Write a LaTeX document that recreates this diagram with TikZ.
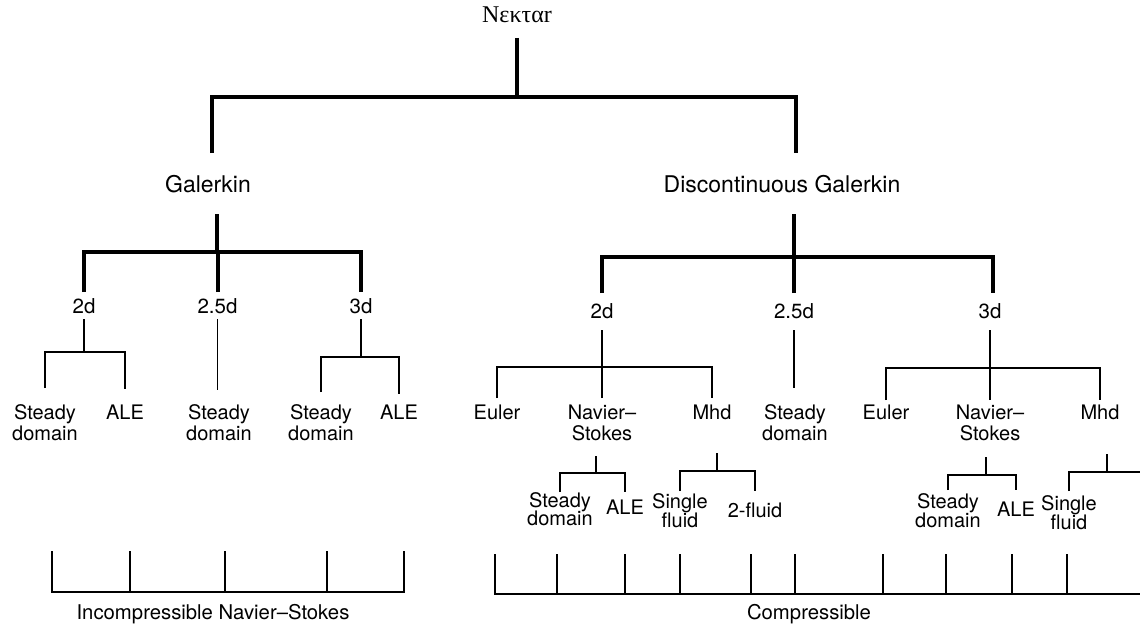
\documentclass[tikz,border=0pt]{standalone}
\usepackage{fontspec}
\setmainfont{TeX Gyre Heros}
\newfontfamily\greekserif{Liberation Serif}

% two centred lines, first baseline is the box baseline
\newcommand\stack[3]{\vtop{\baselineskip=#1\lineskiplimit=-\maxdimen
  \halign{\hfil##\hfil\cr#2\cr#3\cr}}}

\tikzset{
  trunk/.style={line width=4pt},
  twig/.style={line width=1.4pt},
  txt/.style={anchor=base, inner sep=0pt, outer sep=0pt, text height=#1, text depth=0pt},
  txt/.default=15pt,
  root/.style={txt, font=\greekserif\fontsize{24}{26}\selectfont},
  method/.style={txt=39pt, text depth=22pt, font=\fontsize{23}{25}\selectfont},
  dimL/.style={txt=21pt, text depth=6pt, font=\fontsize{20.5}{22}\selectfont},
  dimR/.style={txt=25pt, text depth=12pt, font=\fontsize{20.5}{22}\selectfont},
  leaf/.style={txt=#1, font=\fontsize{20}{21}\selectfont},
  low/.style={txt=#1, font=\fontsize{20}{19}\selectfont},
  note/.style={txt, font=\fontsize{20.3}{22}\selectfont}
}

\begin{document}
\begin{tikzpicture}[x=1pt, y=-1pt]
\useasboundingbox (0,0) rectangle (1140,626);
\clip (0,0) rectangle (1140,626);

% root and methods
\node[root, text depth=15pt] (nek) at (517,23) {Nεκταr};
\node[method] (gal) at (208,192) {Galerkin};
\node[method] (dg) at (782,192) {Discontinuous Galerkin};
\draw[trunk] (nek.south) -- ++(0,59) coordinate (nekj);
\draw[trunk] ([xshift=4pt]gal.north) |- (nekj) -| ([xshift=14pt]dg.north);

% Galerkin
\node[dimL] (g2d) at (84,313) {2d};
\node[dimL] (g25) at (217.5,313) {2.5d};
\node[dimL] (g3d) at (361,313) {3d};
\draw[trunk] ([xshift=9pt]gal.south) -- ++(0,38) coordinate (galj);
\draw[trunk] (g2d.north) |- (galj) -| (g3d.north);
\draw[trunk] (g25.north) -- (g25.north |- galj);

\node[leaf=31pt] (g2dsd) at (45,419) {\stack{21pt}{Steady}{domain}};
\node[leaf=30pt] (g2dale) at (125,419) {ALE};
\draw[twig] (g2d.south) -- ++(0,33) coordinate (g2dj);
\draw[twig] (g2dsd.north) |- (g2dj) -| (g2dale.north);

\node[leaf=29pt] (g25sd) at (219,419) {\stack{21pt}{Steady}{domain}};
\draw[twig] (g25.south) -- (g25.south |- g25sd.north);

\node[leaf=27pt] (g3dsd) at (321,419) {\stack{21pt}{Steady}{domain}};
\node[leaf=25pt] (g3dale) at (399,419) {ALE};
\draw[twig] (g3d.south) -- ++(0,38) coordinate (g3dj);
\draw[twig] (g3dsd.north) |- (g3dj) -| (g3dale.north);

% Discontinuous Galerkin
\node[dimR] (d2d) at (602,318) {2d};
\node[dimR] (d25) at (794,318) {2.5d};
\node[dimR] (d3d) at (990,318) {3d};
\draw[trunk] ([xshift=12pt]dg.south) -- ++(0,43) coordinate (dgj);
\draw[trunk] (d2d.north) |- (dgj) -| ([xshift=3pt]d3d.north);
\draw[trunk] (d25.north) -- (d25.north |- dgj);

\node[leaf=21pt] (d2deu) at (497,419) {Euler};
\node[leaf=21pt, text depth=37pt] (d2dns) at (602,419) {\stack{21pt}{Navier–}{Stokes}};
\node[leaf=21pt, text depth=34pt] (d2dmhd) at (712,419) {Mhd};
\draw[twig] (d2d.south) -- ++(0,37) coordinate (d2dj);
\draw[twig] (d2deu.north) |- (d2dj) -| (d2dmhd.north);
\draw[twig] (d2dns.north) -- (d2dns.north |- d2dj);

\node[leaf=31pt] (d25sd) at (795,419) {\stack{21pt}{Steady}{domain}};
\draw[twig] (d25.south) -- (d25.south |- d25sd.north);

\node[leaf=19pt] (d3deu) at (886,419) {Euler};
\node[leaf=19pt, text depth=38pt] (d3dns) at (990,419) {\stack{21pt}{Navier–}{Stokes}};
\node[leaf=19pt, text depth=35pt] (d3dmhd) at (1100,419) {Mhd};
\draw[twig] (d3d.south) -- ++(0,38) coordinate (d3dj);
\draw[twig] (d3deu.north) |- (d3dj) -| (d3dmhd.north);
\draw[twig] (d3dns.north) -- (d3dns.north |- d3dj);

% third level
\node[low=15pt] (ns2sd) at (560,507) {\stack{18.5pt}{Steady}{domain}};
\node[low=22pt] (ns2ale) at (625,514) {ALE};
\draw[twig] ([xshift=-6pt]d2dns.south) -- ++(0,17) coordinate (ns2j);
\draw[twig] (ns2sd.north) |- (ns2j) -| (ns2ale.north);

\node[low=17pt] (mhd2sf) at (680,508) {\stack{19pt}{Single}{fluid}};
\node[low=26pt] (mhd2tf) at (755,517) {2-fluid};
\draw[twig] ([xshift=5pt]d2dmhd.south) -- ++(0,18) coordinate (mhd2j);
\draw[twig] (mhd2sf.north) |- (mhd2j) -| (mhd2tf.north);

\node[low=18pt] (ns3sd) at (948,508) {\stack{19pt}{Steady}{domain}};
\node[low=26pt] (ns3ale) at (1016,516) {ALE};
\draw[twig] ([xshift=-4pt]d3dns.south) -- ++(0,18) coordinate (ns3j);
\draw[twig] (ns3sd.north) |- (ns3j) -| (ns3ale.north);

\node[low=19pt] (mhd3sf) at (1069,510) {\stack{19pt}{Single}{fluid}};
\coordinate (cut) at (1146,472);
\draw[twig] ([xshift=7pt]d3dmhd.south) -- ++(0,18) coordinate (mhd3j);
\draw[twig] (mhd3sf.north) |- (mhd3j) -- (mhd3j -| cut);

% brackets
\node[note] (inc) at (213,619) {Incompressible Navier–Stokes};
\node[note] (comp) at (809,619) {Compressible};
\draw[twig] (52,551) -- (52,592) -- (404,592) -- (404,551);
\foreach \x in {130,225,327}
  \draw[twig] (\x,551) -- (\x,592);
\draw[twig] (495,554) -- (495,594) -- (cut |- 0,594);
\foreach \x in {557,625,680,751,795,883,946,1012,1067}
  \draw[twig] (\x,554) -- (\x,594);
\end{tikzpicture}
\end{document}
